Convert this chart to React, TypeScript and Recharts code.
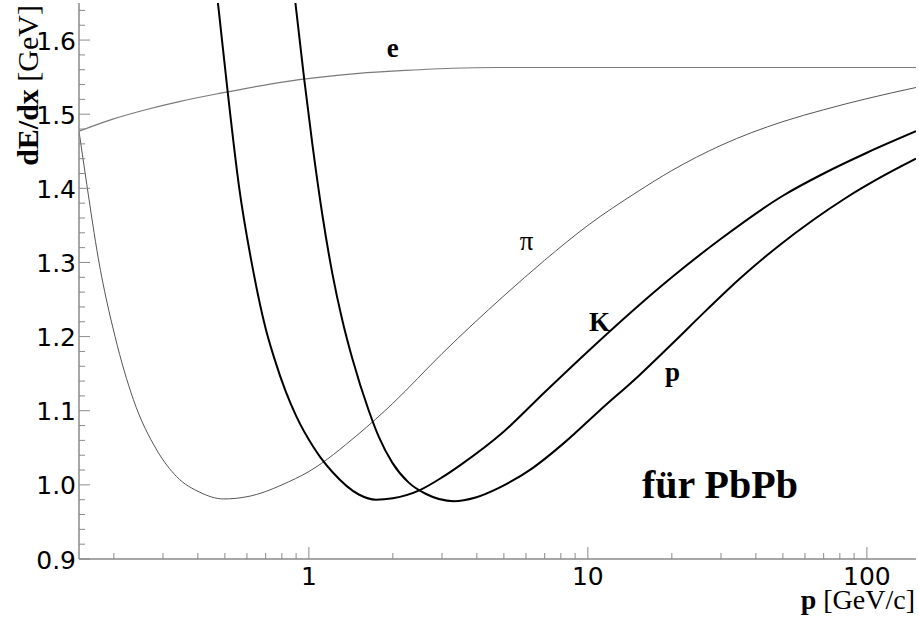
import React from "react";
import { LineChart, Line, XAxis, YAxis, ReferenceDot } from "recharts";

// momentum p [GeV/c] and dE/dx, one pair of arrays per particle
const momentumE = [0.15, 0.197, 0.26, 0.343, 0.477, 0.827, 1.51, 2.22, 3.26, 4.8, 10, 150];
const dedxE = [1.477, 1.493, 1.506, 1.517, 1.528, 1.544, 1.555, 1.559, 1.562, 1.563, 1.563, 1.563];

const momentumPi = [
  0.15, 0.16, 0.176, 0.202, 0.235, 0.285, 0.336, 0.407, 0.494, 0.6, 0.7, 0.8, 1, 1.5, 2, 3, 5, 7,
  10, 15, 20, 30, 50, 70, 100, 150,
];
const dedxPi = [
  1.477, 1.405, 1.305, 1.2, 1.115, 1.047, 1.011, 0.99, 0.981, 0.984, 0.991, 1.0, 1.018, 1.068,
  1.11, 1.177, 1.255, 1.303, 1.35, 1.395, 1.424, 1.458, 1.49, 1.506, 1.521, 1.536,
];

const momentumK = [
  0.44, 0.477, 0.51, 0.563, 0.627, 0.701, 0.75, 0.826, 0.9, 1.03, 1.1, 1.21, 1.51, 1.74, 2, 2.5,
  3, 3.5, 5, 7, 10, 15, 20, 30, 50, 70, 100, 150,
];
const dedxK = [
  1.75, 1.635, 1.535, 1.4, 1.295, 1.21, 1.172, 1.126, 1.093, 1.053, 1.037, 1.018, 0.987, 0.98,
  0.982, 0.993, 1.01, 1.027, 1.072, 1.125, 1.18, 1.24, 1.28, 1.332, 1.39, 1.42, 1.448, 1.477,
];

const momentumP = [
  0.87, 0.961, 1.029, 1.118, 1.214, 1.318, 1.432, 1.64, 1.78, 1.99, 2.28, 2.62, 3.31, 3.96, 4.8,
  6.3, 8.3, 11, 15.3, 20, 26.5, 35, 48.5, 64, 84, 111, 150,
];
const dedxP = [
  1.69, 1.549, 1.46, 1.364, 1.285, 1.222, 1.17, 1.1, 1.065, 1.03, 1.003, 0.988, 0.978, 0.983,
  0.996, 1.022, 1.058, 1.1, 1.148, 1.19, 1.235, 1.278, 1.323, 1.357, 1.387, 1.414, 1.44,
];

const xMajorTicks = [1, 10, 100];
const xMinorTicks = [
  0.2, 0.3, 0.4, 0.5, 0.6, 0.7, 0.8, 0.9, 2, 3, 4, 5, 6, 7, 8, 9, 20, 30, 40, 50, 60, 70, 80, 90,
];
const yMajorTicks = [0.9, 1.0, 1.1, 1.2, 1.3, 1.4, 1.5, 1.6];
const yMinorSteps = [0.02, 0.04, 0.06, 0.08];

const curveLabels = [
  { text: "e", p: 2.0, dedx: 1.577, bold: true },
  { text: "π", p: 6.03, dedx: 1.317, bold: false },
  { text: "K", p: 11.0, dedx: 1.207, bold: true },
  { text: "p", p: 20.1, dedx: 1.14, bold: true },
];

const zip = (xs: number[], ys: number[]) => xs.map((p, i) => ({ p, dedx: ys[i] }));

const AXIS = "#8a8a8a";
const SANS = "DejaVu Sans";
const SERIF = "Liberation Serif, Times New Roman, serif";

const yMinorTicks = yMajorTicks
  .flatMap((v) => yMinorSteps.map((s) => Math.round((v + s) * 100) / 100))
  .filter((v) => v < 1.65);

const isMajor = (list: number[], v: number) => list.some((m) => Math.abs(m - v) < 1e-6);

function XTick(props: any) {
  const { x, y, payload } = props;
  const major = isMajor(xMajorTicks, payload.value);
  return (
    <g>
      <line x1={x} y1={y} x2={x} y2={y - (major ? 12 : 6)} stroke={AXIS} />
      {major && (
        <text x={x} y={y + 26} textAnchor="middle" fontFamily={SANS} fontSize={25} fill="#000">
          {payload.value}
        </text>
      )}
    </g>
  );
}

function YTick(props: any) {
  const { x, y, payload } = props;
  const major = isMajor(yMajorTicks, payload.value);
  return (
    <g>
      <line x1={x} y1={y} x2={x + (major ? 11 : 6)} y2={y} stroke={AXIS} />
      {major && (
        <text x={x - 3} y={y + 9.5} textAnchor="end" fontFamily={SANS} fontSize={25} fill="#000">
          {payload.value.toFixed(1)}
        </text>
      )}
    </g>
  );
}

export default function App() {
  return (
    <div style={{ position: "absolute", left: 0, top: 0, width: 919, height: 620, background: "#fff" }}>
      <LineChart width={919} height={620} margin={{ top: 3, right: 3, left: 0, bottom: 0 }}>
        <XAxis
          dataKey="p"
          type="number"
          scale="log"
          domain={[0.15, 150]}
          allowDataOverflow
          ticks={[...xMinorTicks, ...xMajorTicks].sort((a, b) => a - b)}
          interval={0}
          tick={<XTick />}
          tickLine={false}
          tickSize={0}
          tickMargin={0}
          height={61}
          axisLine={{ stroke: AXIS, strokeWidth: 1.5 }}
        />
        <XAxis
          xAxisId="frame"
          orientation="top"
          type="number"
          scale="log"
          domain={[0.15, 150]}
          allowDataOverflow
          height={0}
          tick={false}
          tickLine={false}
          axisLine={{ stroke: AXIS }}
        />
        <YAxis
          type="number"
          domain={[0.9, 1.65]}
          allowDataOverflow
          ticks={[...yMajorTicks, ...yMinorTicks].sort((a, b) => a - b)}
          interval={0}
          tick={<YTick />}
          tickLine={false}
          tickSize={0}
          tickMargin={0}
          width={79}
          axisLine={{ stroke: AXIS, strokeWidth: 1.5 }}
        />
        <YAxis
          yAxisId="frame"
          orientation="right"
          type="number"
          domain={[0.9, 1.65]}
          width={0}
          tick={false}
          tickLine={false}
          axisLine={{ stroke: AXIS }}
        />
        <Line data={zip(momentumE, dedxE)} dataKey="dedx" type="monotone" stroke="#7a7a7a" strokeWidth={1.2} dot={false} isAnimationActive={false} />
        <Line data={zip(momentumPi, dedxPi)} dataKey="dedx" type="monotone" stroke="#555" strokeWidth={1} dot={false} isAnimationActive={false} />
        <Line data={zip(momentumK, dedxK)} dataKey="dedx" type="monotone" stroke="#000" strokeWidth={2} dot={false} isAnimationActive={false} />
        <Line data={zip(momentumP, dedxP)} dataKey="dedx" type="monotone" stroke="#000" strokeWidth={2} dot={false} isAnimationActive={false} />
        {curveLabels.map((l) => (
          <ReferenceDot
            key={l.text}
            x={l.p}
            y={l.dedx}
            r={0}
            fill="none"
            stroke="none"
            label={{
              content: (lp: any) => (
                <text
                  x={lp.viewBox.x + lp.viewBox.width / 2}
                  y={lp.viewBox.y + lp.viewBox.height / 2}
                  textAnchor="middle"
                  fontFamily={SERIF}
                  fontWeight={l.bold ? "bold" : "normal"}
                  fontSize={27}
                  fill="#000"
                >
                  {l.text}
                </text>
              ),
            }}
          />
        ))}
      </LineChart>
      <svg width={919} height={620} style={{ position: "absolute", left: 0, top: 0, pointerEvents: "none" }}>
        <text transform="translate(37.5,5) rotate(-90)" textAnchor="end" fontFamily={SERIF} fontSize={30} fill="#000">
          <tspan fontWeight="bold">dE/dx</tspan>
          {" [GeV]"}
        </text>
        <text x={915} y={609} textAnchor="end" fontFamily={SERIF} fontSize={28} fill="#000">
          <tspan fontWeight="bold">p</tspan>
          {" [GeV/c]"}
        </text>
        <text x={642} y={498} fontFamily={SERIF} fontWeight="bold" fontSize={40} fill="#000">
          für PbPb
        </text>
      </svg>
    </div>
  );
}
